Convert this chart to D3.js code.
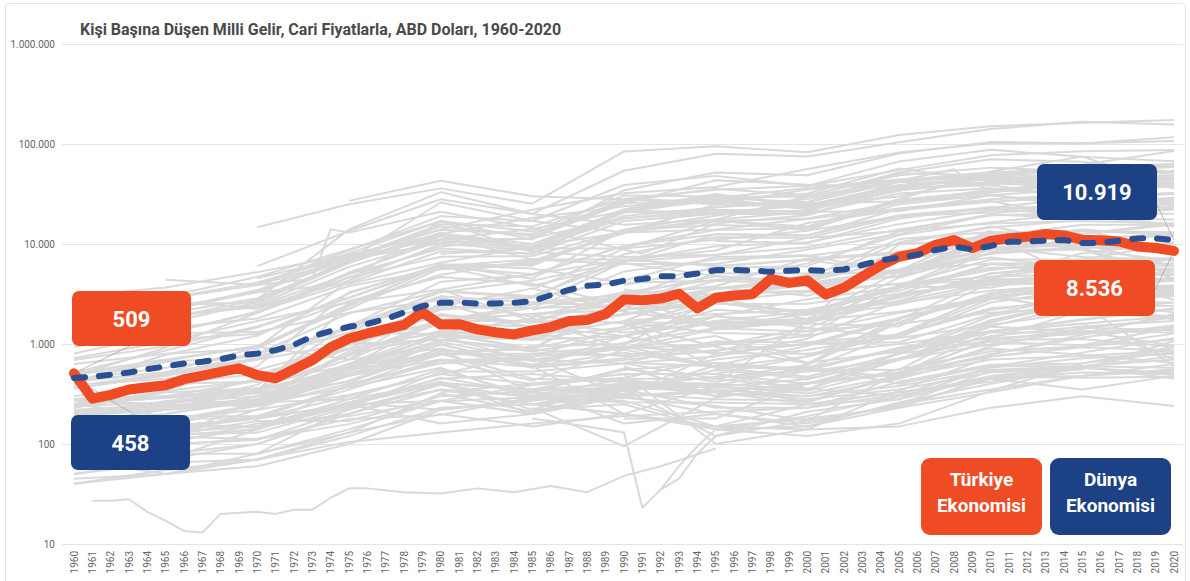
<!DOCTYPE html>
<html>
<head>
<meta charset="utf-8">
<script src="https://cdn.jsdelivr.net/npm/d3@7"></script>
<style>
  body { margin: 0; background: #fff; }
  svg { display: block; font-family: Roboto, "Noto Sans", sans-serif; }
</style>
</head>
<body>
<svg id="chart" width="1190" height="581"></svg>
<script>
// yıllar (x ekseni kategorileri)
const years = d3.range(1960, 2021);

// Türkiye, kişi başına gelir (cari $)
const turkiye = [
  509, 284, 310, 351, 370, 387, 445, 482, 526, 571,
  489, 455, 558, 687, 929, 1136, 1275, 1409, 1549, 2079,
  1564, 1579, 1402, 1310, 1248, 1368, 1477, 1699, 1736, 1994,
  2794, 2735, 2842, 3180, 2270, 2897, 3053, 3144, 4480, 4082,
  4318, 3119, 3660, 4742, 6102, 7456, 8101, 9792, 10941, 9104,
  10743, 11420, 11796, 12615, 12178, 11006, 10895, 10590, 9455, 9122,
  8536
];

// Dünya, kişi başına gelir (cari $)
const dunya = [
  458, 470, 493, 519, 559, 598, 637, 665, 706, 770,
  803, 869, 982, 1191, 1350, 1487, 1590, 1779, 2063, 2390,
  2579, 2599, 2532, 2544, 2588, 2675, 3080, 3469, 3820, 3925,
  4296, 4461, 4764, 4771, 5074, 5476, 5512, 5421, 5293, 5412,
  5497, 5396, 5563, 6170, 6866, 7299, 7825, 8710, 9420, 8851,
  9566, 10505, 10609, 10794, 10980, 10239, 10265, 10819, 11381, 11412,
  10919
];

// diğer ülkeler (gri çizgiler), 5 yılda bir okunan değerler
const bgYears = [1960, 1965, 1970, 1975, 1980, 1985, 1990, 1995, 2000, 2005, 2010, 2015, 2020];
const bgSeries = [
  [3007, 3665, 5234, 7801, 12575, 18237, 23889, 28691, 36330, 44123, 48651, 56863, 63544],
  [2240, 2820, 3890, 8050, 17000, 11100, 34500, 51900, 48700, 80300, 105000, 101400, 117000],
  [null, null, 3950, 8600, 19000, 17000, 38900, 48000, 38000, 54800, 77100, 84800, 86900],
  [1440, 2160, 3310, 7210, 15770, 15000, 28240, 34880, 38130, 66810, 87690, 74360, 67330],
  [null, null, 14700, 25000, 36000, 25300, 84300, 95000, 82500, 123000, 150600, 163000, 173700],
  [null, null, 6000, 13500, 28000, 20000, 54000, 80000, 75000, 104000, 141000, 167000, 157000],
  [null, null, 4540, 7500, 14000, 22000, 32100, 37100, 56300, 82300, 102000, 102000, 107000],
  [479, 920, 2040, 4660, 9460, 11580, 25360, 43440, 39170, 37220, 44970, 34520, 40040],
  [1398, 1874, 2348, 4300, 10032, 8652, 19095, 23200, 28150, 42000, 39600, 45070, 40300],
  [1334, 2010, 2860, 6630, 12710, 10000, 21800, 26900, 22400, 34900, 40700, 36650, 39030],
  [null, null, 2700, 6700, 12100, 9400, 22300, 31700, 23600, 34500, 41500, 41100, 46200],
  [805, 1270, 2110, 4100, 8460, 7990, 20800, 20600, 20100, 32000, 36000, 30230, 31920],
  [1810, 2280, 3300, 7000, 10200, 11400, 18250, 20300, 21680, 34000, 52000, 56700, 51800],
  [2260, 2850, 4120, 7510, 11170, 14140, 21450, 20600, 24270, 36380, 47560, 43600, 43350],
  [2110, 2990, 4670, 8800, 16900, 13300, 30600, 29900, 29600, 43400, 52100, 51500, 52800],
  [1370, 2180, 3460, 7590, 13890, 12580, 26890, 35650, 30740, 48800, 58040, 53250, 61060],
  [1070, 1610, 2610, 6460, 12700, 9300, 21400, 29000, 26200, 41900, 50950, 45190, 52300],
  [1270, 1800, 2760, 6800, 13000, 8600, 20600, 28000, 23000, 37900, 44400, 41000, 45500],
  [940, 1270, 2060, 5200, 10800, 9000, 21600, 30300, 24600, 38400, 46900, 44200, 48800],
  [1180, 1880, 2470, 5900, 11100, 11300, 28400, 26300, 24300, 39000, 46500, 42800, 49000],
  [1430, 2500, 2600, 7000, 15000, 12000, 25700, 26600, 32000, 57000, 43000, 53000, 59000],
  [690, 950, 1500, 2900, 6250, 6100, 14000, 19200, 26200, 51000, 48700, 62000, 85200],
  [396, 780, 1210, 3210, 6210, 4500, 13800, 15500, 14700, 26400, 30500, 25700, 27060],
  [520, 860, 1470, 2900, 5880, 4980, 9540, 12500, 12070, 22500, 26900, 18100, 17600],
  [360, 490, 800, 2030, 3370, 2890, 7900, 11700, 11500, 18800, 22500, 19250, 22180],
  [1230, 1430, 1800, 3800, 5600, 6300, 13200, 17500, 21000, 21300, 30700, 35800, 44200],
  [430, 520, 930, 2500, 4930, 6840, 12760, 24900, 23800, 29900, 47200, 55600, 61270],
  [430, 680, 960, 2250, 5700, 6540, 13490, 23500, 25760, 26650, 32550, 42430, 46320],
  [158, 108, 279, 615, 1715, 2482, 6610, 12560, 12260, 19400, 23090, 28700, 31640],
  [null, null, 920, 4300, 17000, 8300, 7400, 7800, 9300, 14000, 19300, 20600, 20100],
  [null, null, 2800, 14000, 33000, 20000, 15600, 17600, 29900, 52000, 70300, 66300, 52300],
  [720, 1050, 1700, 2600, 3500, 5000, 6900, 8600, 16200, 21900, 26400, 29900, 32300],
  [2310, 2700, 2250, 4620, 7440, 7580, 13660, 17370, 13650, 27750, 33690, 38630, 41600],
  [360, 480, 700, 1480, 3000, 2600, 3100, 3780, 7160, 8280, 9270, 9620, 8430],
  [210, 260, 450, 1150, 1950, 1630, 3100, 4750, 3750, 4790, 11290, 8810, 6800],
  [null, 1280, 1320, 2050, 2760, 2900, 4330, 7400, 7700, 5080, 10400, 13790, 8500],
  [510, 700, 940, 700, 2580, 1440, 2490, 5100, 5070, 7600, 12800, 13600, 13100],
  [1030, 1100, 1260, 2690, 4670, 4000, 2430, 3500, 4820, 5440, 13690, null, null],
  [440, 580, 800, 1450, 2900, 1860, 3140, 3700, 3030, 5380, 7330, 5730, 5660],
  [230, 330, 360, 760, 1770, 2000, 2440, 4290, 4040, 5590, 9040, 9960, 10160],
  [100, 140, 190, 350, 680, 740, 1500, 2830, 2000, 2890, 5080, 5840, 7000],
  [90, 98, 113, 178, 195, 294, 318, 610, 960, 1750, 4550, 8070, 10430],
  [250, 300, 340, 560, 1240, 1140, 1470, 2510, 2520, 3400, 6340, 6180, 5330],
  [250, 400, 420, 1000, 1100, 840, 1200, 2200, 1950, 2700, 5080, 6180, 6060],
  [390, 450, 550, 980, 2000, 1500, 1950, 2900, 4060, 4700, 8200, 11600, 12170],
  [280, 350, 600, 3300, 6000, 3800, 6400, 4800, 4200, 7000, 9300, 7400, 6900],
  [240, 260, 340, 980, 2200, 2600, 2400, 1450, 1770, 3100, 4480, 4180, 3350],
  [190, 250, 390, 1580, 2370, 3600, 2100, 1600, 1600, 3140, 6300, 5200, 2750],
  [430, 520, 720, 1300, 1250, 900, 2400, 3100, 3400, 4000, 4700, 5000, 4900],
  [280, 300, 430, 1130, 1920, 1640, 1990, 2570, 2040, 3750, 3650, 5400, 4900],
  [630, 800, 900, 2400, 6200, 5700, 4100, 4300, 6400, 12300, 16500, 20500, 15200],
  [null, 250, 340, 2500, 6000, 7000, 6300, 6300, 8800, 12600, 19600, 19200, 15000],
  [82, 119, 112, 158, 267, 294, 368, 374, 443, 714, 1350, 1590, 1910],
  [83, 120, 170, 170, 300, 340, 370, 470, 530, 700, 990, 1350, 1300],
  [150, 180, 220, 310, 500, 790, 770, 960, 1450, 1170, 2600, 3560, 3550],
  [250, 190, 190, 380, 700, 590, 720, 1060, 1040, 1240, 2200, 2870, 3300],
  [null, null, 80, 230, 530, 530, 640, 1060, 780, 1260, 3090, 3320, 3870],
  [93, 112, 223, 490, 880, 330, 570, 420, 570, 1270, 2280, 2680, 2070],
  [98, 106, 143, 241, 460, 320, 370, 330, 410, 520, 1080, 1410, 1840],
  [180, 270, 260, 280, 410, 350, 400, 390, 260, 500, 1330, 1770, 2210],
  [140, 150, 180, 250, 270, 390, 460, 700, 870, 1240, 2800, 3840, 3680],
  [190, 220, 260, 430, 900, 580, 690, 870, 1000, 1040, 1970, 3080, 3140],
  [210, 260, 300, 420, 840, 880, 760, 840, 1360, 1590, 2050, 2320, 2410],
  [170, 200, 270, 560, 980, 620, 1030, 1440, 1330, 2050, 2840, 2870, 3060],
  [240, 340, 430, 600, 800, 450, 420, 400, 350, 700, 1490, 1340, 960],
  [280, 300, 360, 700, 900, 600, 820, 600, 550, 470, 950, 1450, 1370],
  [110, 140, 180, 380, 800, 800, 950, 600, 580, 880, 1150, 1260, 1500],
  [160, 220, 270, 600, 1200, 670, 950, 810, 800, 1000, 1340, 1740, 2280],
  [270, 250, 240, 480, 700, 430, 880, 580, 470, 800, 1050, 970, 1470],
  [90, 120, 140, 260, 220, 280, 300, 330, 410, 500, 780, 1240, 2000],
  [50, 65, 70, 105, 130, 160, 190, 210, 230, 310, 590, 820, 1140],
  [null, 150, 250, 550, 800, 750, 900, 1200, 650, 840, 1900, 2700, 2600],
  [70, 50, 70, 120, 230, 250, 200, 150, 140, 150, 230, 300, 240],
  [40, 55, 70, 130, 200, 150, 200, 140, 150, 230, 470, 480, 630],
  [40, 50, 60, 100, 220, 270, 350, 120, 210, 280, 580, 720, 800],
  [105, 125, 130, 230, 350, 250, 290, 240, 170, 520, 900, 780, 650],
  [130, 155, 150, 200, 400, 200, 300, 200, 160, 250, 350, 480, 560],
  [45, 50, 80, 130, 320, 210, 340, 550, 450, 720, 1100, 1120, 940],
  [60, 70, 140, 400, 1100, 900, 2800, 3200, 3400, 5500, 6400, 6400, 6400],
  [70, 80, 80, 140, 270, 200, 350, 230, 230, 420, 620, 640, 830],
  [null, null, null, null, 270, 200, 320, 280, 270, 470, 700, 760, 860],
  [130, 150, 150, 280, 560, 300, 260, 260, 250, 280, 470, 460, 470],
  [null, 180, 180, 250, 400, 350, 160, 200, 150, 260, 400, 580, 490],
  [220, 240, 250, 370, 580, 280, 270, 150, 180, 230, 330, 480, 540],
  [null, null, null, null, null, 250, 200, 150, 250, 330, 420, 600, 450],
  [null, null, null, null, null, 220, 250, 140, 120, 160, 340, 640, 940],
  [90, 120, 140, 260, 420, 220, 420, 330, 280, 350, 520, 580, 920],
  [90, 100, 110, 220, 390, 290, 390, 370, 340, 560, 840, 950, 1270],
  [null, null, 3300, 4000, 6500, 9500, 13000, 14000, 17800, 22700, 28000, 31200, 25200],
  [null, null, null, 1500, 4200, 4900, 9600, 13800, 14400, 24900, 31000, 23400, 28000],
  [null, null, 800, 1400, 3400, 3000, 6800, 9500, 10400, 15800, 21800, 25400, 29000],
  [380, 500, 700, 1500, 3300, 4300, 6700, 7700, 11500, 13500, 16000, 17000, 16000],
  [490, 660, 750, 1300, 3500, 1700, 2950, 6000, 6900, 5200, 11900, 15600, 15600],
  [420, 520, 700, 1000, 1700, 2000, 2200, 3000, 3900, 4800, 8100, 13600, 12400],
  [200, 230, 330, 580, 1050, 700, 900, 1900, 2800, 3700, 5500, 6900, 7200],
  [250, 290, 350, 580, 1100, 1300, 900, 1400, 1700, 2100, 2900, 3900, 4600],
  [250, 290, 320, 480, 780, 950, 1000, 1700, 2100, 2600, 3400, 4000, 3800],
  [130, 170, 240, 400, 640, 730, 300, 800, 1000, 1150, 1550, 2100, 1900],
  [210, 240, 280, 800, 1600, 1500, 1200, 1900, 1450, 3000, 4600, 6100, 5600],
  [200, 220, 260, 520, 1300, 900, 1400, 1900, 1600, 1500, 4100, 5300, 5000],
  [null, 230, 280, 850, 1350, 1200, 1700, 2000, 2200, 3200, 4100, 3900, 3500],
  [null, 200, 300, 640, 1300, 1800, 900, 1000, 1200, 1800, 2800, null, null],
  [null, null, null, 700, 1700, 1700, 1300, 1600, 1800, 2500, 3900, 4200, 4300],
  [140, 170, 250, 620, 1200, 1100, 1200, 800, 1000, 1800, 3000, 2100, 1800],
  [100, 150, 180, 300, 500, 400, 500, 500, 400, 700, 1200, 1500, 1700],
  [120, 130, 150, 260, 450, 500, 430, 300, 350, 800, 1500, 2500, 600],
  [70, 80, 100, 200, 350, 300, 450, 330, 250, 330, 450, 350, 480],
  [50, 70, 100, 200, 350, 250, 350, 380, 600, 400, 600, 600, 750],
  [null, null, 150, 250, 160, 200, 300, 350, 300, 380, 550, 600, 700],
  [null, null, null, null, 330, 400, 500, 500, 750, 1250, 2200, 2800, 3000],
  [null, null, null, null, null, 600, 200, 380, 320, 480, 1140, 2140, 2600],
  [null, null, null, null, null, null, null, 320, 300, 450, 790, 1160, 1540],
  [null, null, null, null, null, 230, 95, 290, 400, 690, 1680, 2600, 3500],
  [null, null, null, null, null, null, 180, 180, 400, 500, 750, 950, 1100],
  [60, 100, 160, 190, 270, null, null, null, null, 250, 540, 580, 510],
  [null, null, null, 1200, 2300, 2500, 2900, 1500, 2000, 3600, 8300, 9000, 4900],
  [300, 400, 500, 900, 1300, 1200, 2000, 2700, 3300, 4000, 4300, 4900, 4400],
  [null, null, null, 800, 1200, 1100, 2500, 3600, 4000, 5300, 8000, 9300, 8600],
  [null, null, 400, 900, 2300, 2300, 5300, 7000, 7600, 10000, 11000, 14000, 12000],
  [null, null, null, null, 2600, 1400, 2200, 2600, 2100, 3800, 5800, 5700, 4300],
  [null, null, 250, 500, 1000, 600, 1200, 1700, 1600, 3000, 4300, 3900, 3500],
  [null, null, null, null, null, 2200, 3300, 4400, 4600, 11200, 13200, 12700, 16100],
  [null, null, null, null, null, null, 1700, 3600, 4500, 8000, 12600, 12600, 15700],
  [null, null, null, null, 1700, 2300, 2400, 1500, 1600, 3900, 7000, 7000, 10100],
  [null, null, null, null, null, null, 1650, 1600, 1650, 4600, 8200, 8900, 13000],
  [null, null, null, null, null, null, 3500, 2700, 1770, 5300, 10700, 9300, 10200],
  [null, null, null, null, null, null, 1600, 940, 640, 1830, 2970, 2120, 3750],
  [null, null, null, null, null, null, 1650, 1290, 1230, 3770, 9070, 10510, 9120],
  [null, null, null, null, null, null, 500, 100, 140, 340, 750, 930, 860],
  [null, null, null, null, null, null, 650, 600, 560, 550, 1630, 2750, 1750],
  [null, null, null, null, null, 1900, 1600, 580, 750, 1640, 3230, 4010, 4280],
  [null, null, null, null, null, null, 640, 450, 620, 1640, 3220, 3610, 4500],
  [null, null, null, null, null, null, null, 500, 350, 830, 1730, 2730, 4550],
  [null, null, null, null, 650, 700, 640, 750, 1130, 2670, 4090, 3950, 5340],
  [null, null, null, null, null, null, null, 10700, 10200, 18000, 23500, 20900, 25500],
  [null, null, null, null, null, null, 3900, 5800, 6000, 13400, 19800, 17800, 22900],
  [null, null, null, null, null, null, null, 3100, 4100, 10400, 14600, 17400, 23000],
  [null, null, null, null, null, 300, 350, 400, 1700, 10000, 15000, 10000, 6000],
  [null, null, null, 7000, 26000, 17000, 13000, 17000, 18000, 26000, 35000, 31000, 27000],
  [null, null, null, null, null, 3500, 9000, 17000, 15000, 28000, 53000, 75000, 36000],
  [null, null, 3900, 7000, 12000, 9000, 18000, 22000, 21000, 42000, 48000, 38000, 37000],
  [null, null, 2100, 5000, 9000, 8000, 17000, 20000, 20000, 35000, 42000, 43000, 54000],
  [null, null, null, null, 8000, 9000, 9000, 11000, 13600, 19000, 20700, 22700, 23400],
  [null, null, 2400, 5000, 12000, 7000, 7000, 6000, 7000, 8000, 12000, 4500, 3700],
  [null, null, null, null, null, null, 1000, 2800, 5000, 5300, 8800, 8800, 4500],
  [null, null, null, null, null, null, 600, 300, 550, 920, 1330, 1600, 700],
  [null, null, null, null, 400, 350, 550, 650, 550, 900, 1300, 1300, 1400],
  [null, null, null, null, null, null, 450, 450, 360, 300, 470, 560, 1070]
];

// kırılımı belirgin birkaç gri çizgi: [yıl, değer]
const bgExtra = [
  [[1961, 27], [1962, 27], [1963, 28], [1964, 21], [1965, 17], [1966, 13.5], [1967, 13], [1968, 20], [1970, 21], [1971, 20], [1972, 22], [1973, 22], [1974, 29], [1975, 36], [1976, 36], [1978, 33], [1980, 32], [1982, 36], [1984, 33], [1986, 38], [1988, 33], [1990, 48], [1992, 60], [1995, 90]],
  [[1985, 180], [1988, 150], [1990, 130], [1991, 23], [1992, 35], [1993, 60], [1994, 95], [1995, 140], [2000, 190], [2005, 300], [2010, 480], [2015, 600], [2020, 580]],
  [[1992, 35], [1993, 45], [1994, 80], [1995, 120], [2000, 170], [2005, 240], [2010, 450], [2015, 520], [2020, 500]],
  [[1965, 4400], [1970, 3900], [1973, 4500], [1974, 14000], [1975, 13000], [1980, 21000], [1985, 14500], [1990, 8800], [1991, 8000], [1995, 16000], [2000, 19400], [2005, 36000], [2010, 38600], [2015, 29900], [2020, 24300]],
  [[1975, 27000], [1980, 43000], [1985, 30000], [1990, 28000], [1995, 25000], [2000, 35000], [2005, 43000], [2008, 56000], [2009, 40000], [2010, 35000], [2015, 41000], [2020, 37000]]
];

const yTicks = [10, 100, 1000, 10000, 100000, 1000000];
const title = "Kişi Başına Düşen Milli Gelir, Cari Fiyatlarla, ABD Doları, 1960-2020";

const orange = "#ef4b24";
const blue = "#1c4185";

const svg = d3.select("#chart");

const x = d3.scaleLinear().domain([1960, 2020]).range([74, 1174]);
const y = d3.scaleLog().domain([10, 1000000]).range([544, 44]);

const trFormat = v => d3.format(",")(v).replace(/,/g, ".");

// çerçeve
svg.append("rect")
  .attr("x", 5.5).attr("y", 3.5)
  .attr("width", 1180).attr("height", 590)
  .attr("rx", 3)
  .attr("fill", "#fff")
  .attr("stroke", "#e3e3e3");

// yatay kılavuz çizgileri
svg.append("g")
  .selectAll("line")
  .data(yTicks)
  .join("line")
  .attr("x1", 62).attr("x2", 1183)
  .attr("y1", d => Math.round(y(d)) + 0.5)
  .attr("y2", d => Math.round(y(d)) + 0.5)
  .attr("stroke", "#e4e4e4");

// y ekseni yazıları
svg.append("g")
  .selectAll("text")
  .data(yTicks)
  .join("text")
  .attr("x", 55)
  .attr("y", d => y(d) + 3.5)
  .attr("text-anchor", "end")
  .attr("font-size", 10)
  .attr("fill", "#666")
  .text(trFormat);

// x ekseni yazıları (dikey)
svg.append("g")
  .selectAll("text")
  .data(years)
  .join("text")
  .attr("transform", d => `translate(${x(d) + 3.5},551) rotate(-90)`)
  .attr("text-anchor", "end")
  .attr("font-size", 10)
  .attr("fill", "#666")
  .text(d => d);

// gri çizgiler
const bgLine = d3.line()
  .defined(d => d[1] != null)
  .x(d => x(d[0]))
  .y(d => y(d[1]));

const bgData = bgSeries.map(s => s.map((v, i) => [bgYears[i], v])).concat(bgExtra);

svg.append("g")
  .selectAll("path")
  .data(bgData)
  .join("path")
  .attr("d", bgLine)
  .attr("fill", "none")
  .attr("stroke", "#d9d9d9")
  .attr("stroke-width", 2)
  .attr("stroke-linejoin", "round");

// kutulardan noktalara ince çizgiler
const leaders = [
  [130, 346, 1960, turkiye[0]],
  [135, 415, 1960, dunya[0]],
  [1157, 205, 2020, dunya[60]],
  [1155, 290, 2020, turkiye[60]]
];
svg.append("g")
  .selectAll("line")
  .data(leaders)
  .join("line")
  .attr("x1", d => d[0]).attr("y1", d => d[1])
  .attr("x2", d => x(d[2])).attr("y2", d => y(d[3]))
  .attr("stroke", "#a6a6a6")
  .attr("stroke-width", 0.8);

const mainLine = d3.line()
  .x((d, i) => x(years[i]))
  .y(d => y(d));

// Türkiye
svg.append("path")
  .datum(turkiye)
  .attr("d", mainLine)
  .attr("fill", "none")
  .attr("stroke", orange)
  .attr("stroke-width", 10)
  .attr("stroke-linejoin", "round")
  .attr("stroke-linecap", "round");

// Dünya (kesikli)
svg.append("path")
  .datum(dunya)
  .attr("d", mainLine)
  .attr("fill", "none")
  .attr("stroke", "#2a4f92")
  .attr("stroke-width", 6)
  .attr("stroke-dasharray", "11,14")
  .attr("stroke-linejoin", "round")
  .attr("stroke-linecap", "round");

// değer kutuları
const boxes = [
  {x: 72, y: 291, w: 119, h: 55, c: orange, t: trFormat(turkiye[0])},
  {x: 71, y: 415, w: 119, h: 55, c: blue, t: trFormat(dunya[0])},
  {x: 1037, y: 164, w: 120, h: 56, c: blue, t: trFormat(dunya[60])},
  {x: 1034, y: 260, w: 121, h: 56, c: orange, t: trFormat(turkiye[60])}
];
const bg = svg.append("g")
  .selectAll("g")
  .data(boxes)
  .join("g");
bg.append("rect")
  .attr("x", d => d.x).attr("y", d => d.y)
  .attr("width", d => d.w).attr("height", d => d.h)
  .attr("rx", 7)
  .attr("fill", d => d.c);
bg.append("text")
  .attr("x", d => d.x + d.w / 2)
  .attr("y", d => d.y + d.h / 2 + 8)
  .attr("text-anchor", "middle")
  .attr("font-size", 22)
  .attr("font-weight", 700)
  .attr("fill", "#fff")
  .text(d => d.t);

// lejant
const legend = [
  {x: 921, c: orange, lines: ["Türkiye", "Ekonomisi"]},
  {x: 1050, c: blue, lines: ["Dünya", "Ekonomisi"]}
];
const lg = svg.append("g")
  .selectAll("g")
  .data(legend)
  .join("g");
lg.append("rect")
  .attr("x", d => d.x).attr("y", 458)
  .attr("width", 121).attr("height", 77)
  .attr("rx", 9)
  .attr("fill", d => d.c);
lg.append("text")
  .attr("text-anchor", "middle")
  .attr("font-size", 19)
  .attr("font-weight", 700)
  .attr("fill", "#fff")
  .selectAll("tspan")
  .data(d => d.lines.map((l, i) => ({l, i, cx: d.x + 60.5})))
  .join("tspan")
  .attr("x", d => d.cx)
  .attr("y", d => 486 + d.i * 26)
  .text(d => d.l);

// başlık
svg.append("text")
  .attr("x", 80)
  .attr("y", 35)
  .attr("font-size", 16)
  .attr("font-weight", 700)
  .attr("fill", "#4a4a4a")
  .text(title);
</script>
</body>
</html>
